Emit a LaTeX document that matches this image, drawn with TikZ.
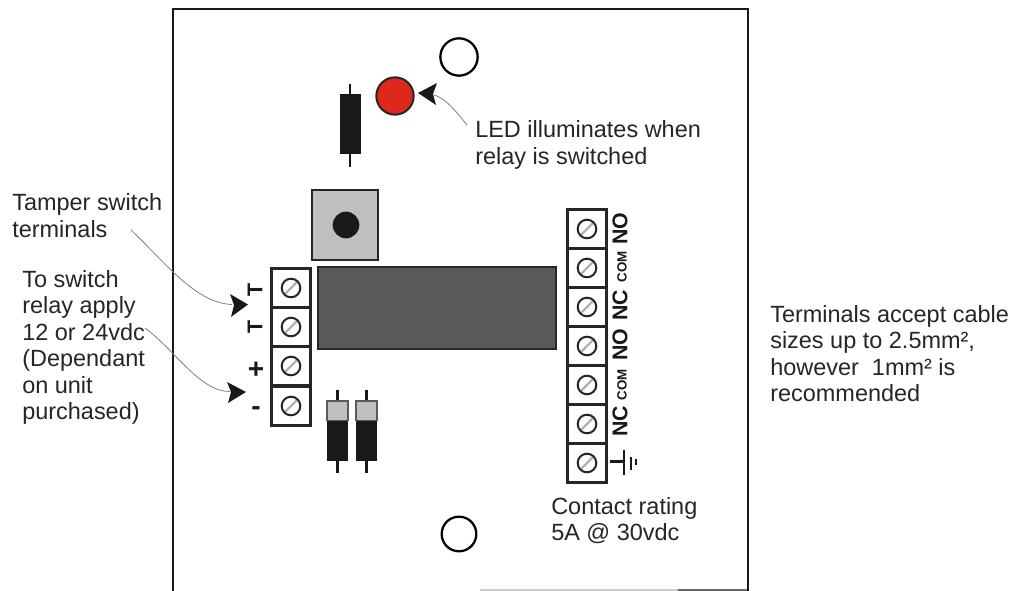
\documentclass[tikz,border=0pt]{standalone}
\usepackage{fontspec}
\setmainfont{Liberation Sans}
\definecolor{ledred}{RGB}{222,40,28}
\begin{document}
\begin{tikzpicture}[x=0.75pt,y=-0.75pt,
  lbl/.style={inner sep=0pt,align=left,font=\fontsize{17.6}{19.9}\selectfont,text=black!85},
  term/.style={draw=black!85,line width=1.9pt,fill=white,minimum width=29.5pt,minimum height=29.4pt,inner sep=0pt,outer sep=0pt},
  hole/.style={circle,draw=black,line width=1.7pt,fill=white,inner sep=0pt,outer sep=0pt},
  callout/.style={draw=black!50,line width=0.6pt},
  head/.style={fill=black!90,draw=none},
  lead/.style={draw=black!90,line width=1.7pt},
  pinlbl/.style={inner sep=0pt,font=\bfseries\fontsize{16}{16}\selectfont,text=black!90},
  smalllbl/.style={inner sep=0pt,font=\bfseries\fontsize{10}{10}\selectfont,text=black!90},
  capbox/.style={fill=black!25,draw=black!65,line width=0.8pt}]
\useasboundingbox (0,0) rectangle (1014,591);
\fill[white] (0,0) rectangle (1014,591);
% board
\draw[black!20,line width=0.8pt] (480,590) -- (678,590);
\draw[black!60,line width=0.8pt] (678,590) -- (748,590);
\draw[black!90,line width=1.8pt] (173,591) -- (173,9) -- (748,9) -- (748,591);
% holes and LED
\node[hole,minimum size=28pt] (holetop) at (459,57) {};
\node[hole,minimum size=26pt] (holebot) at (459,534) {};
\node[circle,draw=black!85,line width=1.5pt,fill=ledred,minimum size=28pt,inner sep=0pt] (led) at (395,96) {};
% top resistor
\draw[lead] (350,84) -- (350,167);
\fill[black!90] (340,94) rectangle (361,154);
% switch
\node[draw=black!85,line width=1.3pt,fill=black!25,minimum width=50pt,minimum height=52pt,inner sep=0pt] (switch) at (345,225) {};
\node[circle,fill=black!90,minimum size=20pt,inner sep=0pt] (knob) at (346,225) {};
% relay
\node[draw=black!85,line width=1.3pt,fill=black!65,minimum width=178pt,minimum height=61pt,inner sep=0pt] (relay) at (437,308) {};
% screw terminals
\foreach \n/\x/\y in {l1/291/288,l2/291/327,l3/291/366,l4/291/406,r1/587/229,r2/587/268,r3/587/307,r4/587/346,r5/587/385,r6/587/424,r7/587/463}{
  \node[term] (\n) at (\x,\y) {};
  \draw[black!30,line width=1.8pt] (\x-6.5,\y+6.5) -- (\x+6.5,\y-6.5);
  \draw[black!85,line width=1.5pt] (\x,\y) circle (9.3);
}
% left labels
\node[pinlbl,rotate=90] (t1) at (255,290) {T};
\node[pinlbl,rotate=90] (t2) at (255,327) {T};
\node[pinlbl,font=\bfseries\fontsize{21}{21}\selectfont] (plus) at (256,370) {+};
\node[pinlbl,font=\bfseries\fontsize{21}{21}\selectfont] (minus) at (256,411) {-};
% right labels
\node[pinlbl,rotate=90] (no1) at (620,228.5) {NO};
\node[smalllbl,rotate=90] (com1) at (622,267) {COM};
\node[pinlbl,rotate=90] (nc1) at (620,305) {NC};
\node[pinlbl,rotate=90] (no2) at (620,345) {NO};
\node[smalllbl,rotate=90] (com2) at (622,385) {COM};
\node[pinlbl,rotate=90] (nc2) at (620,421.5) {NC};
% earth symbol
\coordinate (g0) at (610,461.5);
\coordinate (g1) at (624,461.5);
\draw[black!90,line width=1.7pt] (g0) -- (g1);
\draw[black!90,line width=1.7pt] (624,450) -- (624,475);
\draw[black!90,line width=1.7pt] (631,457) -- (631,470);
\draw[black!90,line width=1.7pt] (636,459.5) -- (636,465);
% diodes
\foreach \x in {337.5,366.5}{
  \draw[lead] (\x,390) -- (\x,473);
  \fill[black!90] (\x-10.5,421) rectangle (\x+10.5,461);
  \draw[capbox] (\x-10.5,420.5) -- (\x-10.5,401) -- (\x+10.5,401) -- (\x+10.5,420.5) -- cycle;
}
% text
\node[lbl,anchor=north west] (ledtxt) at (475,120.6) {LED illuminates when\\relay is switched};
\node[lbl,anchor=north west] (tamper) at (12,193.5) {Tamper switch\\terminals};
\node[lbl,anchor=north west] (apply) at (22,270) {To switch\\relay apply\\12 or 24vdc\\(Dependant\\on unit\\purchased)};
\node[lbl,anchor=north west] (cable) at (770,305) {Terminals accept cable\\sizes up to 2.5mm²,\\however\ \ 1mm² is\\recommended};
\node[lbl,anchor=north west] (rating) at (551,497) {Contact rating\\5A @ 30vdc};
% callouts
\coordinate (c1) at (467,125);
\coordinate (a1) at (434,95);
\draw[callout] (c1) .. controls (455,110) and (445,98) .. (a1);
\fill[head] (418,93) -- (437,83) -- (433,94) -- (436,105) -- cycle;
\coordinate (c2) at (131,230);
\coordinate (a2) at (232,304.5);
\draw[callout] (c2) .. controls (165,262) and (195,303) .. (a2);
\fill[head] (248,304.5) -- (230,294) -- (234,305) -- (231,317) -- cycle;
\coordinate (c3) at (145,328);
\coordinate (a3) at (230,391.5);
\draw[callout] (c3) .. controls (175,350) and (200,392) .. (a3);
\fill[head] (246,392) -- (227,382) -- (231,392) -- (228,403) -- cycle;
\end{tikzpicture}
\end{document}
